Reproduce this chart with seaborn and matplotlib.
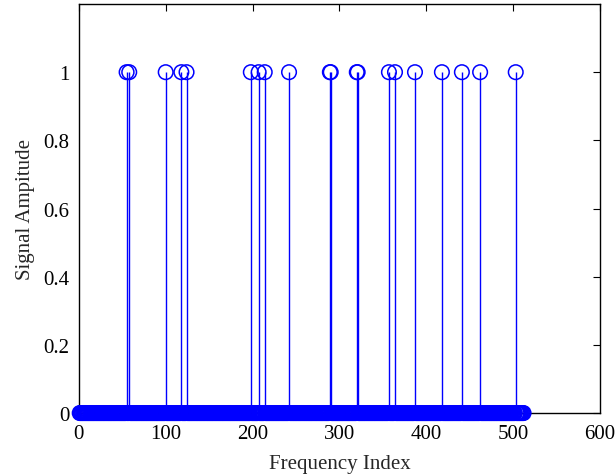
import numpy as np
import pandas as pd
import seaborn as sns
import matplotlib
matplotlib.use('Agg')
import matplotlib.pyplot as plt

# spike positions (all others are zero)
n_points = 512
spike_index = [55, 58, 100, 118, 124, 198, 207, 214, 242, 289, 290,
               320, 321, 357, 364, 387, 418, 441, 462, 503]
x_ticks = [0, 100, 200, 300, 400, 500, 600]
y_ticks = [0, 0.2, 0.4, 0.6, 0.8, 1.0]
y_tick_labels = ['0', '0.2', '0.4', '0.6', '0.8', '1']

index = np.arange(1, n_points + 1)
amplitude = np.zeros(n_points)
amplitude[np.array(spike_index) - 1] = 1
df = pd.DataFrame({'index': index, 'amplitude': amplitude})

sns.set_style('white')
plt.rcParams['font.family'] = ['Liberation Serif', 'DejaVu Serif']
plt.rcParams['font.size'] = 15

fig = plt.figure(figsize=(6.16, 4.77), dpi=100)
ax = fig.add_axes([0.128, 0.132, 0.846, 0.8575])

ax.vlines(df['index'], 0, df['amplitude'], color='blue', linewidth=1.0)
sns.scatterplot(data=df, x='index', y='amplitude', ax=ax, marker='o',
                facecolor='none', edgecolor='blue', linewidth=1.1, s=110,
                clip_on=False, zorder=3)

ax.set_xlim(0, 600)
ax.set_ylim(0, 1.2)
ax.set_xticks(x_ticks)
ax.set_yticks(y_ticks)
ax.set_yticklabels(y_tick_labels)
ax.tick_params(direction='in', length=5, width=0.8, top=True, right=True,
               labelsize=15, colors='black')
ax.tick_params(axis='x', pad=8)
ax.tick_params(axis='y', pad=7)
for sp in ax.spines.values():
    sp.set_color('black')
    sp.set_linewidth(1.0)
ax.set_xlabel('Frequency Index', fontsize=15, labelpad=8)
ax.set_ylabel('Signal Ampitude', fontsize=15, labelpad=6)

fig.savefig('out.png', dpi=100)
